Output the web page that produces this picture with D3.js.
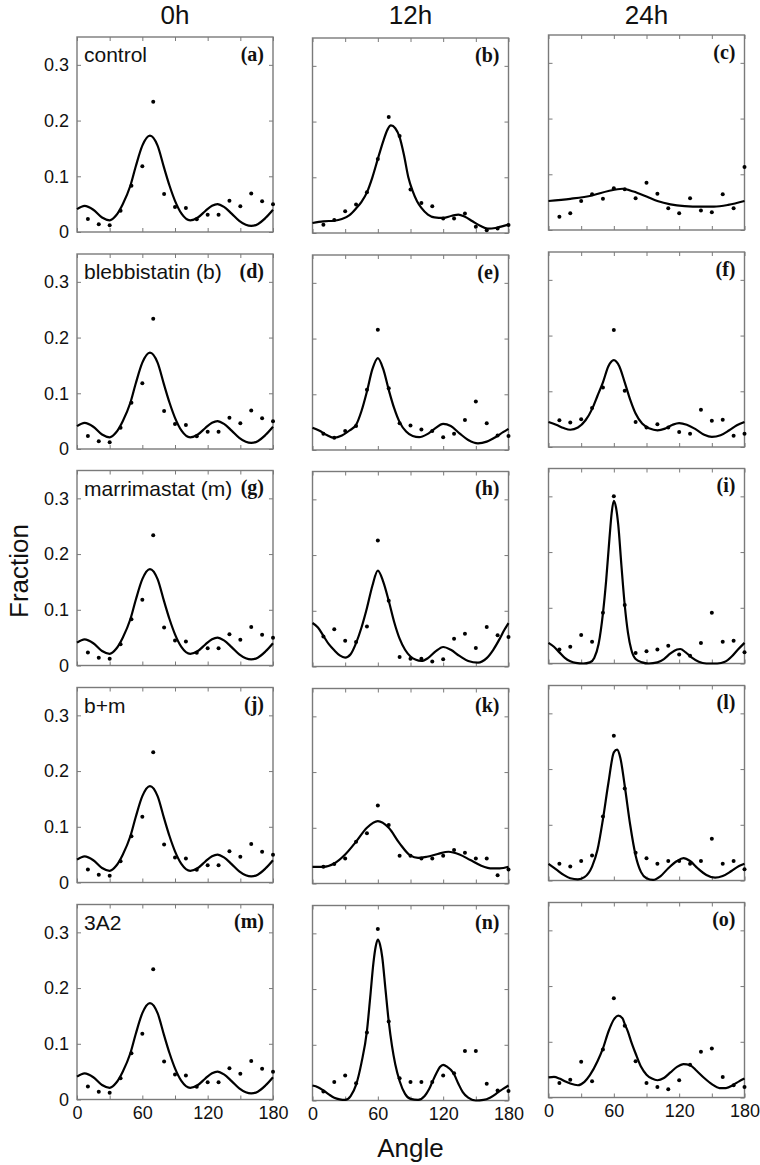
<!DOCTYPE html>
<html><head><meta charset="utf-8">
<script src="https://cdn.jsdelivr.net/npm/d3@7"></script>
<style>body{margin:0;background:#fff}svg{display:block}</style>
</head><body>
<svg id="chart" width="760" height="1165"></svg>
<script>
// ---------- DATA ----------
const columnTitles = ["0h", "12h", "24h"];
const rowLabels = ["control", "blebbistatin (b)", "marrimastat (m)", "b+m", "3A2"];
const panelLetters = ["a","b","c","d","e","f","g","h","i","j","k","l","m","n","o"];
const pointAngles = [10,20,30,40,50,60,70,80,90,100,110,120,130,140,150,160,170,180];
const xTicks = [0,30,60,90,120,150,180];
const xTickLabels = [0,60,120,180];
const yTicks = [0,0.1,0.2,0.3];

// measured fractions (dots), one value per angle in pointAngles
const dots0h         = [0.0235,0.014,0.012,0.038,0.083,0.118,0.234,0.068,0.045,0.043,0.023,0.031,0.031,0.056,0.046,0.069,0.055,0.050];
const dots12hControl = [0.015,0.0235,0.039,0.051,0.073,0.133,0.208,0.174,0.078,0.054,0.048,0.026,0.026,0.035,0.011,0.005,0.008,0.0145];
const dots24hControl = [0.024,0.030,0.052,0.064,0.056,0.075,0.073,0.057,0.085,0.065,0.039,0.030,0.057,0.035,0.032,0.064,0.039,0.113];
const dots12hBleb    = [0.029,0.022,0.034,0.043,0.108,0.216,0.111,0.048,0.044,0.037,0.034,0.023,0.029,0.054,0.087,0.048,0.026,0.025];
const dots24hBleb    = [0.048,0.044,0.050,0.070,0.107,0.210,0.101,0.045,0.035,0.041,0.035,0.027,0.024,0.067,0.047,0.049,0.020,0.024];
const dots12hMarri   = [0.054,0.067,0.046,0.044,0.072,0.226,0.118,0.017,0.014,0.014,0.009,0.013,0.050,0.059,0.033,0.071,0.056,0.053];
const dots24hMarri   = [0.025,0.030,0.051,0.039,0.091,0.300,0.105,0.019,0.022,0.025,0.032,0.016,0.014,0.037,0.091,0.039,0.041,0.020];
const dots12hBM      = [0.030,0.035,0.045,0.075,0.090,0.140,0.105,0.050,0.050,0.045,0.045,0.050,0.060,0.055,0.045,0.045,0.015,0.025];
const dots24hBM      = [0.030,0.025,0.035,0.045,0.115,0.260,0.165,0.050,0.040,0.030,0.035,0.035,0.030,0.035,0.075,0.030,0.035,0.020];
const dots12h3A2     = [0.016,0.033,0.045,0.031,0.122,0.308,0.142,0.040,0.033,0.033,0.033,0.045,0.049,0.089,0.089,0.030,0.018,0.017];
const dots24h3A2     = [0.026,0.032,0.064,0.029,0.086,0.178,0.129,0.065,0.026,0.019,0.015,0.031,0.059,0.082,0.088,0.037,0.022,0.019];

// fitted curves as [angle, fraction]
const fit0h = [[0,0.041],[7,0.047],[15,0.04],[23,0.026],[30,0.021],[36,0.03],[42,0.05],[49,0.083],[54,0.118],[60,0.155],[67,0.173],[74,0.155],[80,0.115],[85,0.083],[90,0.056],[96,0.033],[104,0.021],[111,0.026],[118,0.038],[124,0.047],[129,0.05],[135,0.045],[142,0.033],[149,0.02],[155,0.013],[160,0.011],[166,0.014],[173,0.025],[180,0.04]];
const fit12hControl = [[0,0.018],[10,0.021],[20,0.022],[27,0.025],[34,0.032],[40,0.044],[45,0.056],[50,0.073],[55,0.1],[60,0.133],[65,0.165],[69,0.186],[72,0.193],[76,0.188],[80,0.172],[84,0.14],[88,0.1],[92,0.075],[96,0.057],[100,0.045],[106,0.033],[112,0.028],[120,0.027],[128,0.031],[134,0.033],[140,0.029],[147,0.021],[154,0.013],[161,0.008],[168,0.009],[174,0.012],[180,0.015]];
const fit24hControl = [[0,0.052],[20,0.056],[40,0.062],[55,0.07],[68,0.074],[78,0.069],[90,0.06],[100,0.052],[112,0.046],[125,0.043],[140,0.042],[152,0.042],[165,0.045],[180,0.052]];
const fit12hBleb = [[0,0.04],[6,0.035],[13,0.027],[20,0.022],[27,0.026],[34,0.035],[40,0.045],[45,0.07],[50,0.105],[55,0.145],[60,0.165],[65,0.145],[70,0.108],[75,0.075],[80,0.05],[86,0.033],[92,0.025],[98,0.023],[105,0.028],[112,0.038],[120,0.047],[127,0.043],[135,0.03],[143,0.018],[152,0.012],[160,0.015],[168,0.023],[175,0.032],[180,0.038]];
const fit24hBleb = [[0,0.045],[7,0.04],[14,0.034],[20,0.031],[27,0.035],[34,0.048],[40,0.068],[45,0.092],[50,0.116],[55,0.145],[60,0.156],[65,0.145],[70,0.116],[75,0.085],[80,0.06],[86,0.042],[93,0.033],[100,0.03],[107,0.033],[114,0.04],[120,0.043],[127,0.04],[135,0.032],[143,0.022],[150,0.018],[158,0.021],[166,0.03],[173,0.039],[180,0.045]];
const fit12hMarri = [[0,0.078],[5,0.07],[10,0.055],[15,0.04],[20,0.029],[25,0.02],[30,0.016],[35,0.022],[40,0.042],[45,0.07],[50,0.105],[55,0.145],[60,0.172],[65,0.152],[70,0.118],[75,0.08],[80,0.05],[85,0.03],[90,0.018],[95,0.012],[100,0.01],[106,0.015],[113,0.027],[120,0.035],[127,0.03],[135,0.019],[143,0.01],[152,0.007],[160,0.015],[166,0.03],[172,0.05],[176,0.065],[180,0.078]];
const fit24hMarri = [[0,0.037],[5,0.03],[10,0.02],[15,0.01],[20,0.004],[25,0.001],[32,0],[38,0.002],[42,0.01],[46,0.035],[50,0.09],[53,0.15],[56,0.225],[58,0.27],[60,0.292],[62,0.28],[64,0.25],[67,0.175],[70,0.105],[73,0.055],[76,0.025],[80,0.008],[86,0.002],[92,0],[100,0.002],[106,0.008],[112,0.018],[118,0.025],[121,0.026],[126,0.02],[132,0.01],[138,0.003],[145,0],[155,0],[162,0.003],[168,0.012],[174,0.025],[180,0.037]];
const fit12hBM = [[0,0.03],[10,0.03],[20,0.036],[30,0.052],[40,0.075],[50,0.1],[60,0.112],[70,0.1],[80,0.072],[90,0.05],[97,0.046],[105,0.048],[115,0.053],[125,0.057],[135,0.052],[145,0.042],[155,0.032],[165,0.027],[172,0.027],[180,0.03]];
const fit24hBM = [[0,0.03],[7,0.02],[14,0.01],[20,0.004],[27,0.002],[33,0.006],[40,0.025],[45,0.055],[50,0.11],[55,0.175],[60,0.23],[63,0.235],[66,0.22],[70,0.17],[75,0.1],[80,0.045],[85,0.015],[90,0.004],[96,0.001],[103,0.008],[110,0.022],[118,0.035],[124,0.04],[130,0.035],[137,0.022],[145,0.01],[153,0.005],[160,0.008],[168,0.017],[175,0.026],[180,0.03]];
const fit12h3A2 = [[0,0.027],[5,0.024],[10,0.018],[15,0.011],[20,0.005],[25,0.002],[30,0.001],[35,0.008],[40,0.028],[45,0.068],[50,0.125],[53,0.185],[56,0.248],[58,0.276],[60,0.289],[62,0.28],[64,0.258],[67,0.2],[70,0.142],[73,0.098],[76,0.065],[80,0.035],[85,0.012],[90,0.003],[97,0.001],[103,0.008],[107,0.02],[110,0.033],[114,0.05],[117,0.06],[120,0.064],[124,0.06],[127,0.055],[130,0.047],[134,0.03],[138,0.015],[143,0.005],[150,0],[157,0.001],[163,0.005],[170,0.014],[175,0.021],[180,0.027]];
const fit24h3A2 = [[0,0.036],[5,0.037],[10,0.034],[15,0.029],[20,0.025],[27,0.022],[33,0.028],[38,0.04],[45,0.065],[50,0.088],[55,0.118],[60,0.14],[64,0.147],[68,0.142],[70,0.132],[73,0.118],[76,0.1],[80,0.079],[85,0.055],[90,0.041],[95,0.034],[100,0.031],[106,0.035],[112,0.045],[118,0.055],[124,0.06],[130,0.058],[136,0.048],[143,0.035],[150,0.024],[157,0.017],[163,0.017],[170,0.023],[175,0.029],[180,0.034]];

// panel table, row-major
const panels = [
  {dots: dots0h, fit: fit0h}, {dots: dots12hControl, fit: fit12hControl}, {dots: dots24hControl, fit: fit24hControl},
  {dots: dots0h, fit: fit0h}, {dots: dots12hBleb, fit: fit12hBleb}, {dots: dots24hBleb, fit: fit24hBleb},
  {dots: dots0h, fit: fit0h}, {dots: dots12hMarri, fit: fit12hMarri}, {dots: dots24hMarri, fit: fit24hMarri},
  {dots: dots0h, fit: fit0h}, {dots: dots12hBM, fit: fit12hBM}, {dots: dots24hBM, fit: fit24hBM},
  {dots: dots0h, fit: fit0h}, {dots: dots12h3A2, fit: fit12h3A2}, {dots: dots24h3A2, fit: fit24h3A2}
];

// ---------- LAYOUT ----------
const PW = 196, PH = 195;
const colLeft = [77, 312.5, 548.5];
const colDy = [0, 1, -2];
const rowTop = [37, 254, 470.5, 687.5, 904.5];

const svg = d3.select("#chart");
svg.append("rect").attr("width", 760).attr("height", 1165).attr("fill", "#fff");

const x = d3.scaleLinear().domain([0, 180]).range([0, PW]);
const y = d3.scaleLinear().domain([0, 0.35]).range([PH, 0]);
const line = d3.line().x(d => x(d[0])).y(d => y(d[1])).curve(d3.curveMonotoneX);
const yFmt = d => d === 0 ? "0" : d3.format(".1f")(d);

const frameColor = "#7a7a7a";
const sans = "'Liberation Sans', Arial, Helvetica, sans-serif";

panels.forEach((p, i) => {
  const r = Math.floor(i / 3), c = i % 3;
  const g = svg.append("g").attr("transform", `translate(${colLeft[c]},${rowTop[r] + colDy[c]})`);

  // axes with inward ticks on all four sides
  const styleAxis = sel => {
    sel.select(".domain").remove();
    sel.selectAll(".tick line").attr("stroke", frameColor).attr("stroke-width", 1);
    sel.selectAll("text").attr("font-family", sans).attr("font-size", 18).attr("fill", "#111");
  };
  g.append("g").call(d3.axisLeft(y).tickValues(yTicks).tickSizeInner(-4).tickSizeOuter(0).tickPadding(8)
      .tickFormat(c === 0 ? yFmt : () => "")).call(styleAxis);
  g.append("g").attr("transform", `translate(${PW},0)`)
      .call(d3.axisRight(y).tickValues(yTicks).tickSizeInner(-4).tickSizeOuter(0).tickFormat(() => "")).call(styleAxis);
  g.append("g").attr("transform", `translate(0,${PH})`)
      .call(d3.axisBottom(x).tickValues(xTicks).tickSizeInner(-4).tickSizeOuter(0).tickPadding(7)
      .tickFormat(d => (r === 4 && xTickLabels.includes(d)) ? d : "")).call(styleAxis);
  g.append("g")
      .call(d3.axisTop(x).tickValues(xTicks).tickSizeInner(-4).tickSizeOuter(0).tickFormat(() => "")).call(styleAxis);

  g.append("rect").attr("width", PW).attr("height", PH).attr("fill", "none")
    .attr("stroke", frameColor).attr("stroke-width", 1.4);

  g.append("path").datum(p.fit).attr("d", line).attr("fill", "none")
    .attr("stroke", "#000").attr("stroke-width", 2.2).attr("stroke-linejoin", "round");

  g.selectAll("circle.dot").data(p.dots).join("circle").attr("class", "dot")
    .attr("cx", (d, k) => x(pointAngles[k])).attr("cy", d => y(d)).attr("r", 2).attr("fill", "#000");

  if (c === 0) {
    g.append("text").attr("x", 7).attr("y", 25).attr("font-family", sans).attr("font-size", 21)
      .attr("fill", "#111").text(rowLabels[r]);
  }
  g.append("text").attr("x", PW - 9).attr("y", 23.5).attr("text-anchor", "end")
    .attr("font-family", "'Liberation Serif', 'Times New Roman', serif").attr("font-weight", "bold")
    .attr("font-size", 20).attr("fill", "#111").text(`(${panelLetters[i]})`);
});

// column titles
columnTitles.forEach((t, c) => {
  svg.append("text").attr("x", colLeft[c] + PW / 2).attr("y", 24).attr("text-anchor", "middle")
    .attr("font-family", sans).attr("font-size", 26).attr("fill", "#111").text(t);
});

// axis titles
svg.append("text").attr("transform", "translate(28,571) rotate(-90)").attr("text-anchor", "middle")
  .attr("font-family", sans).attr("font-size", 26).attr("fill", "#111").text("Fraction");
svg.append("text").attr("x", colLeft[1] + PW / 2).attr("y", 1157).attr("text-anchor", "middle")
  .attr("font-family", sans).attr("font-size", 26).attr("fill", "#111").text("Angle");
</script>
</body></html>
